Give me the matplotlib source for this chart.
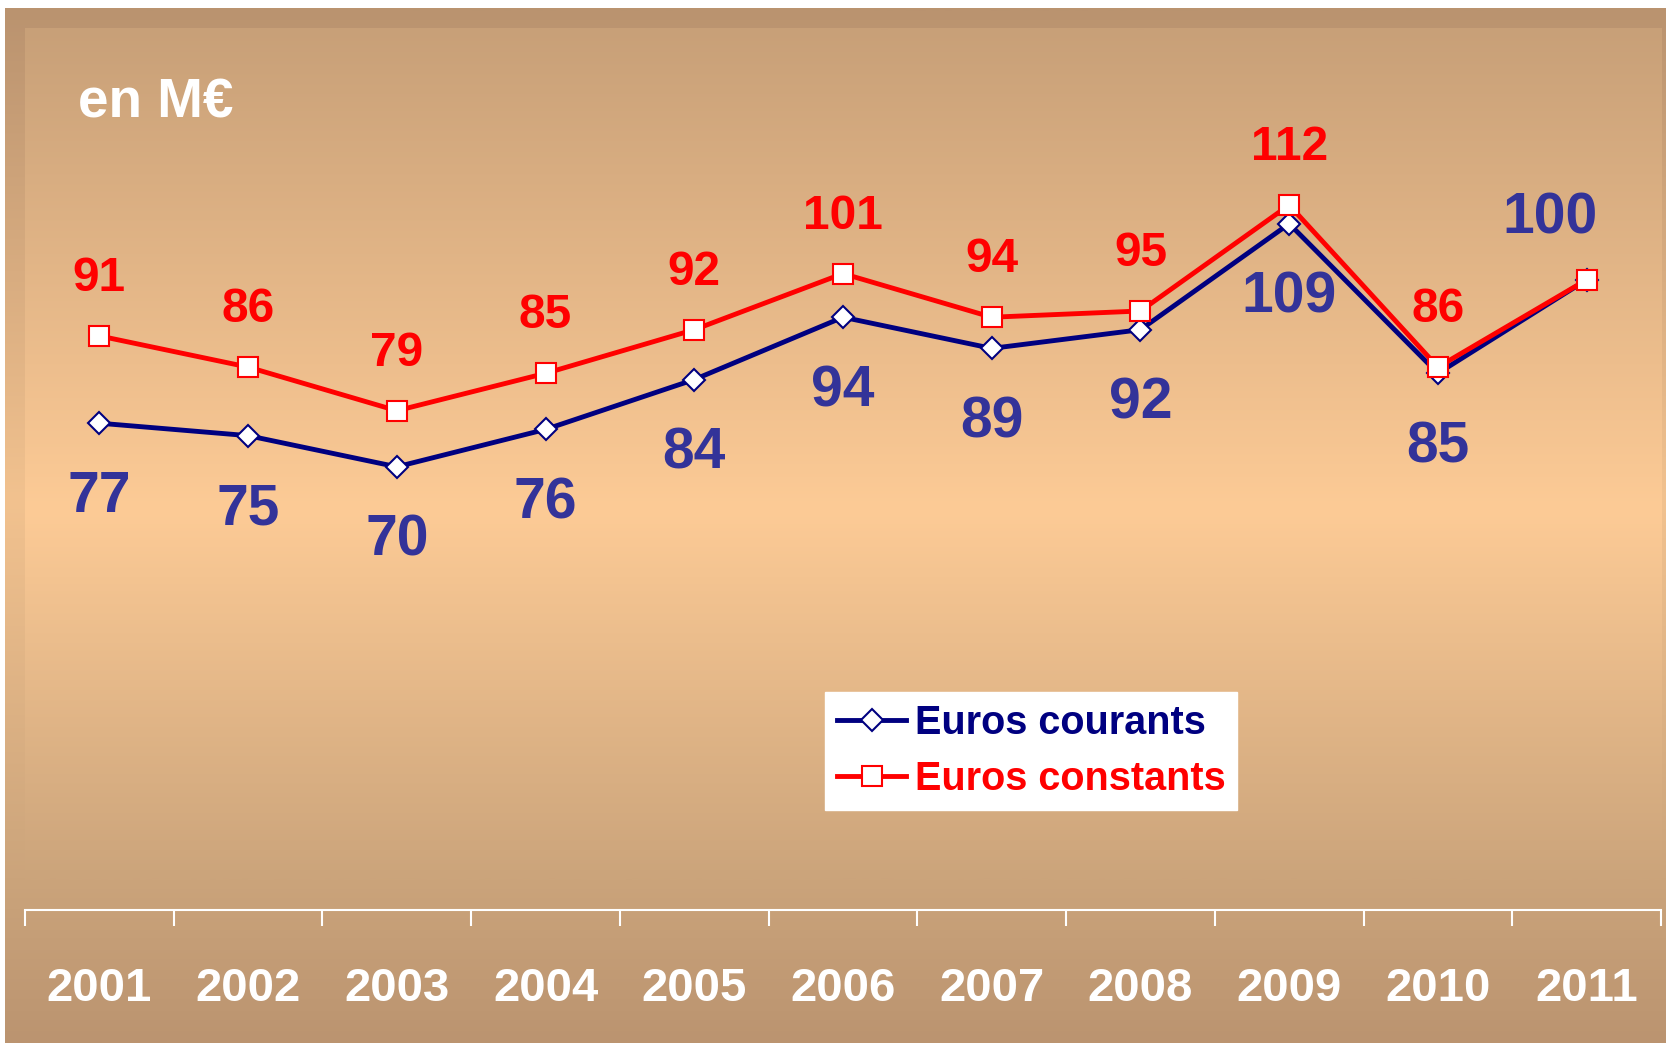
import matplotlib
matplotlib.use("Agg")
import matplotlib.pyplot as plt
import numpy as np
from matplotlib.colors import LinearSegmentedColormap

plt.rcParams['font.family'] = ['Liberation Sans', 'DejaVu Sans']
plt.rcParams['font.weight'] = 'bold'

# data
years = ['2001', '2002', '2003', '2004', '2005', '2006',
         '2007', '2008', '2009', '2010', '2011']
courants = [77, 75, 70, 76, 84, 94, 89, 92, 109, 85, 100]
constants = [91, 86, 79, 85, 92, 101, 94, 95, 112, 86, 100]
unit_label = 'en M€'
name_courants = 'Euros courants'
name_constants = 'Euros constants'

W, H = 1666, 1043
fig = plt.figure(figsize=(W / 100, H / 100), dpi=100)


def vgrad(y0, y1, stops):
    # stops given as (pixel y, colour) -> colormap over [y0, y1]
    return LinearSegmentedColormap.from_list(
        'g', [((y - y0) / (y1 - y0), c) for y, c in stops])


# background: outer frame + inner panel, both vertical gradients
bg = fig.add_axes([0, 0, 1, 1])
outer = vgrad(8, H, [(8, '#BA936F'), (500, '#F2C28F'), (880, '#CBA47B'),
                     (H, '#BB9470')])
inner = vgrad(28, 880, [(28, '#C8A078'), (510, '#FDCB96'), (880, '#CBA47B')])
grad = np.linspace(0, 1, 512).reshape(-1, 1)
bg.imshow(grad, cmap=outer, extent=(5, W, H, 8), aspect='auto')
bg.imshow(grad, cmap=inner, extent=(25, 1662, 880, 28), aspect='auto')
bg.set_xlim(0, W)
bg.set_ylim(H, 0)
bg.axis('off')

ax = fig.add_axes([25 / W, 1 - 910 / H, (1661 - 25) / W, (910 - 28) / H])
ax.set_facecolor('none')
x = np.arange(len(years))
ax.set_xlim(-0.5, len(years) - 0.5)
ax.set_ylim(-1.1, 140.4)

blue = '#000080'
blue_txt = '#333399'
red = '#FF0000'

ax.plot(x, courants, color=blue, lw=3.5, marker='D', ms=11, mfc='white',
        mec=blue, mew=1.5, label=name_courants, zorder=3)
ax.plot(x, constants, color=red, lw=3.5, marker='s', ms=15, mfc='white',
        mec=red, mew=1.5, label=name_constants, zorder=4)

for s in ['left', 'right', 'top']:
    ax.spines[s].set_visible(False)
ax.spines['bottom'].set_color('white')
ax.spines['bottom'].set_linewidth(1.5)
ax.set_yticks([])
ax.set_xticks(np.arange(len(years) + 1) - 0.5)
ax.set_xticklabels([])
ax.tick_params(axis='x', direction='out', length=11.5, width=1.5, color='white')

for i, yr in enumerate(years):
    ax.annotate(yr, xy=(i, 0), xycoords=('data', 'axes fraction'),
                xytext=(0, -91), textcoords='offset pixels', ha='center',
                va='baseline', color='white', fontsize=34, fontweight='bold',
                annotation_clip=False)

last = len(years) - 1
for i, v in enumerate(courants):
    off = (-37, 46) if i == last else (0, -89)
    ax.annotate(str(v), xy=(i, v), xytext=off, textcoords='offset pixels',
                ha='center', va='baseline', color=blue_txt, fontsize=41,
                fontweight='bold', zorder=5)
for i, v in enumerate(constants):
    if i == last:
        continue
    ax.annotate(str(v), xy=(i, v), xytext=(0, 45), textcoords='offset pixels',
                ha='center', va='baseline', color=red, fontsize=34.5,
                fontweight='bold', zorder=5)

leg = ax.legend(loc='upper left', bbox_to_anchor=(825 / W, 1 - 692 / H),
                bbox_transform=fig.transFigure, borderaxespad=0,
                frameon=True, fancybox=False, framealpha=1,
                edgecolor='white', facecolor='white',
                prop={'size': 28.5, 'weight': 'bold'}, handlelength=1.75,
                handletextpad=0.22, labelspacing=0.45, borderpad=0.3,
                labelcolor='linecolor', numpoints=1)

fig.text(78 / W, 1 - 118 / H, unit_label, color='white', fontsize=39.5,
         fontweight='bold', ha='left', va='baseline')

fig.savefig('out.png', dpi=100)
